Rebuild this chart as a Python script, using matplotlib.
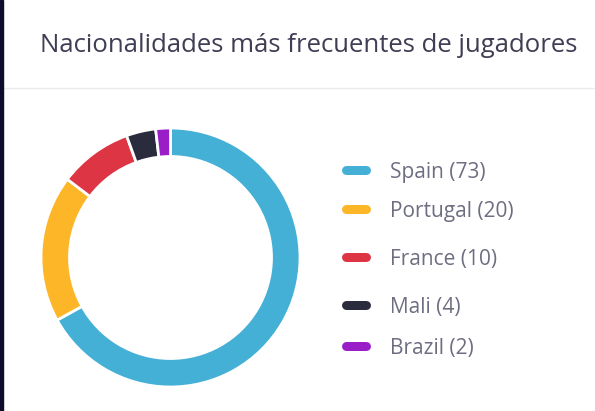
import matplotlib
matplotlib.use("Agg")
import matplotlib.pyplot as plt
from matplotlib.lines import Line2D

countries = ["Spain", "Portugal", "France", "Mali", "Brazil"]
players = [73, 20, 10, 4, 2]
colors = ["#45b0d6", "#fdb628", "#de3545", "#2a2b3d", "#9a1ec8"]
title = "Nacionalidades más frecuentes de jugadores"

# layout (pixels, top-origin)
W, H = 595, 411
cx, cy, R = 170.5, 257.5, 129.5
legend_y = [170, 209, 257, 305, 346]

plt.rcParams['font.family'] = ['Open Sans', 'DejaVu Sans']

fig = plt.figure(figsize=(W / 100, H / 100), dpi=100)
fig.patch.set_facecolor("white")

# overlay in pixel coordinates
bg = fig.add_axes([0, 0, 1, 1])
bg.set_xlim(0, W)
bg.set_ylim(H, 0)
bg.axis("off")
bg.add_patch(plt.Rectangle((0, 0), 2.5, H, color="#0e0c2c", zorder=5))
bg.plot([2.5, W], [88, 88], color="#ebebeb", lw=1.0)
bg.text(40, 52, title, fontsize=18.5, color="#3f3e54", va="baseline", ha="left")

for i, (c, v, col) in enumerate(zip(countries, players, colors)):
    y = legend_y[i]
    bg.add_line(Line2D([345.5, 365.5], [y, y], color=col, lw=9 * 0.72,
                       solid_capstyle="round"))
    bg.text(390, y + 7.5, f"{c} ({v})", fontsize=15, color="#6e6e82",
            va="baseline", ha="left", fontweight="medium")

# donut
ax = fig.add_axes([(cx - R) / W, (H - cy - R) / H, 2 * R / W, 2 * R / H])
ax.pie(players, colors=colors, startangle=90, counterclock=False,
       radius=1.0, wedgeprops=dict(width=0.22, edgecolor="white", linewidth=2))
ax.set_xlim(-1, 1)
ax.set_ylim(-1, 1)
ax.set_aspect("equal")
ax.axis("off")

fig.savefig("out.png", dpi=100, facecolor="white")
